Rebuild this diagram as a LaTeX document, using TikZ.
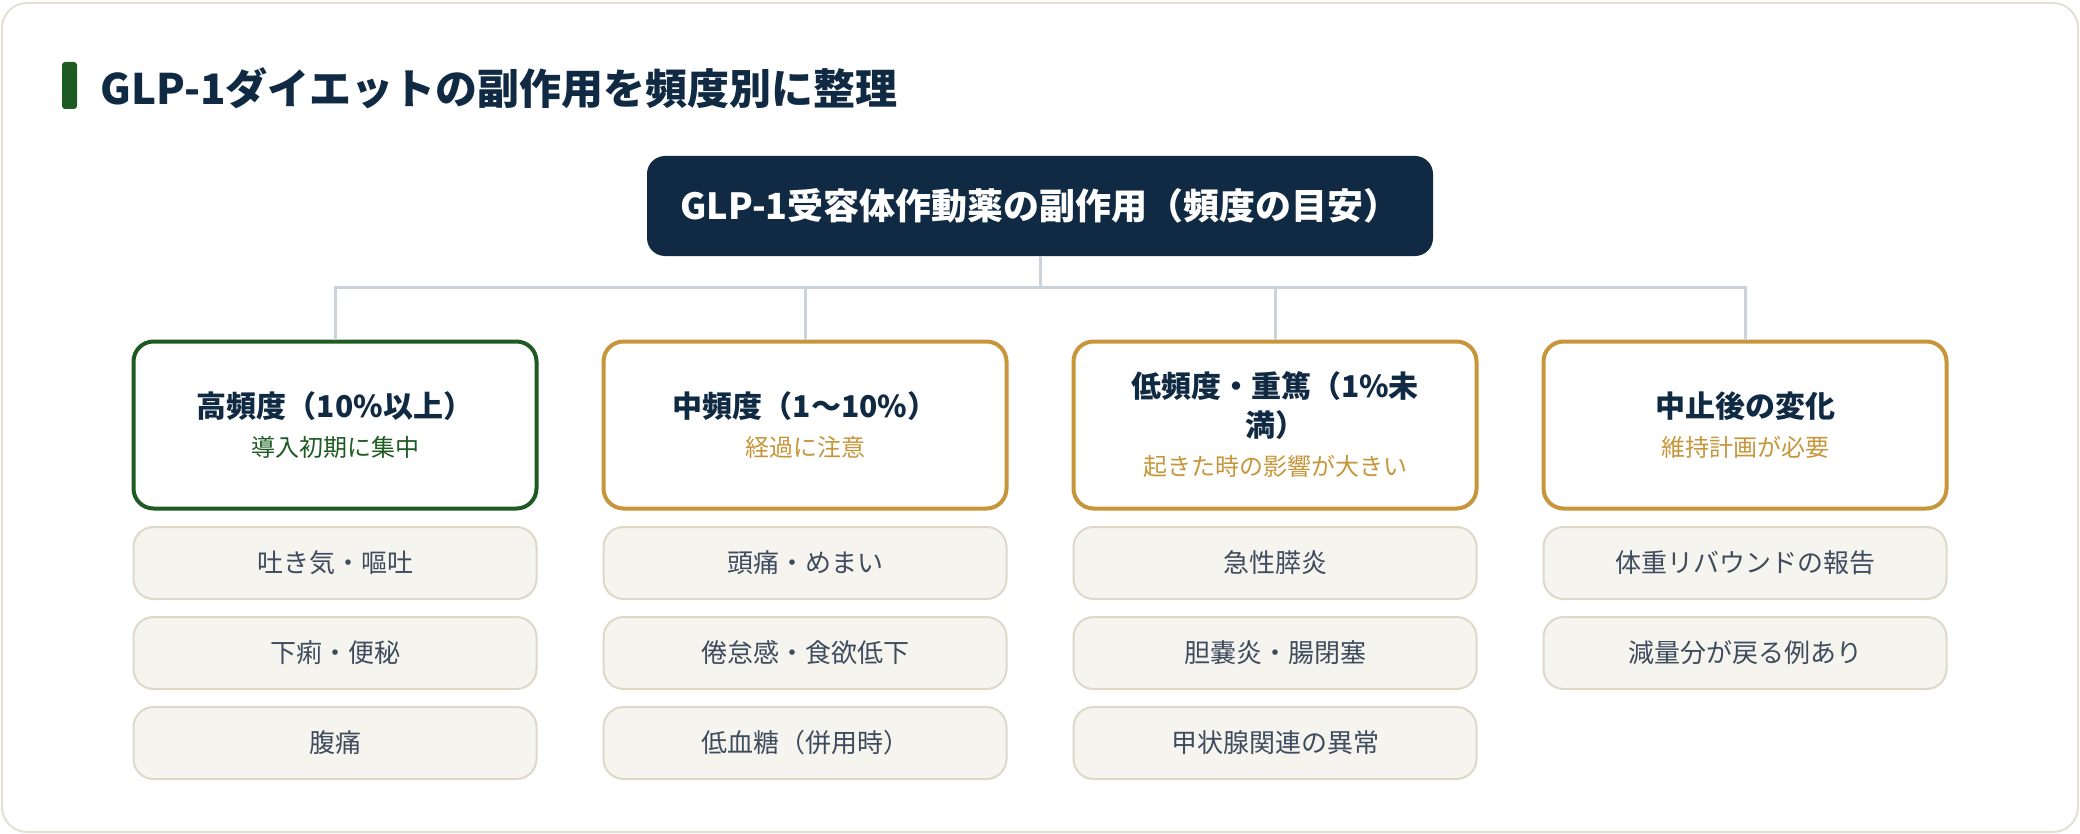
\documentclass[tikz,border=0pt]{standalone}
\usepackage{fontspec}
\setmainfont{Noto Sans CJK JP}
\definecolor{navy}{HTML}{102A43}
\definecolor{dgreen}{HTML}{1E5B22}
\definecolor{gold}{HTML}{C8963A}
\definecolor{conn}{HTML}{CBD2D9}
\definecolor{itemfill}{HTML}{F6F4EE}
\definecolor{itemline}{HTML}{DDD8C8}
\definecolor{itemtext}{HTML}{3E4C5E}
\definecolor{cardline}{HTML}{E3E0D3}
\tikzset{
  catbox/.style={draw=#1, line width=2pt, rounded corners=10pt, fill=white,
    minimum width=201.5pt, minimum height=83.5pt, align=center, inner sep=0pt,
    font=\fontsize{15}{19.5}\selectfont},
  itembox/.style={draw=itemline, line width=1pt, rounded corners=10pt, fill=itemfill,
    minimum width=201.5pt, minimum height=36pt, inner sep=0pt,
    text=itemtext, font=\fontsize{13}{16}\selectfont},
  connline/.style={draw=conn, line width=1.5pt},
}
\begin{document}
\begin{tikzpicture}[x=0.5pt,y=-0.5pt]
\useasboundingbox (0,0) rectangle (2080,834);
\draw[cardline, line width=1pt, rounded corners=12.5pt, fill=white] (2,3) rectangle (2078,832);
\fill[dgreen, rounded corners=1.5pt] (62,62) rectangle (77,109);
\node[anchor=west, inner sep=0pt, text=navy, font=\fontsize{21}{25}\selectfont\bfseries] (title) at (100,88) {GLP-1ダイエットの副作用を頻度別に整理};
\node[fill=navy, rounded corners=9pt, minimum width=393pt, minimum height=50pt, inner sep=0pt,
  text=white, font=\fontsize{18}{22}\selectfont\bfseries] (top) at (1040,206) {GLP-1受容体作動薬の副作用（頻度の目安）};

\node[catbox=dgreen] (c1) at (335,425) {{\bfseries\color{navy}高頻度（10\%以上）}\\{\fontsize{12}{19.5}\selectfont\color{dgreen}導入初期に集中}};
\node[catbox=gold] (c2) at (805,425) {{\bfseries\color{navy}中頻度（1〜10\%）}\\{\fontsize{12}{19.5}\selectfont\color{gold}経過に注意}};
\node[catbox=gold] (c3) at (1275,425) {{\bfseries\color{navy}低頻度・重篤（1\%未}\\{\bfseries\color{navy}満）}\\{\fontsize{12}{19.5}\selectfont\color{gold}起きた時の影響が大きい}};
\node[catbox=gold] (c4) at (1745,425) {{\bfseries\color{navy}中止後の変化}\\{\fontsize{12}{19.5}\selectfont\color{gold}維持計画が必要}};

\coordinate (hb) at (1040,287);
\draw[connline] (top.south) -- (hb);
\draw[connline] (c1.north) -- (c1.north |- hb) -- (c4.north |- hb) -- (c4.north);
\draw[connline] (c2.north) -- (c2.north |- hb);
\draw[connline] (c3.north) -- (c3.north |- hb);

\node[itembox] (i11) at (335,563) {吐き気・嘔吐};
\node[itembox] (i12) at (335,653) {下痢・便秘};
\node[itembox] (i13) at (335,743) {腹痛};
\node[itembox] (i21) at (805,563) {頭痛・めまい};
\node[itembox] (i22) at (805,653) {倦怠感・食欲低下};
\node[itembox] (i23) at (805,743) {低血糖（併用時）};
\node[itembox] (i31) at (1275,563) {急性膵炎};
\node[itembox] (i32) at (1275,653) {胆嚢炎・腸閉塞};
\node[itembox] (i33) at (1275,743) {甲状腺関連の異常};
\node[itembox] (i41) at (1745,563) {体重リバウンドの報告};
\node[itembox] (i42) at (1745,653) {減量分が戻る例あり};
\end{tikzpicture}
\end{document}
